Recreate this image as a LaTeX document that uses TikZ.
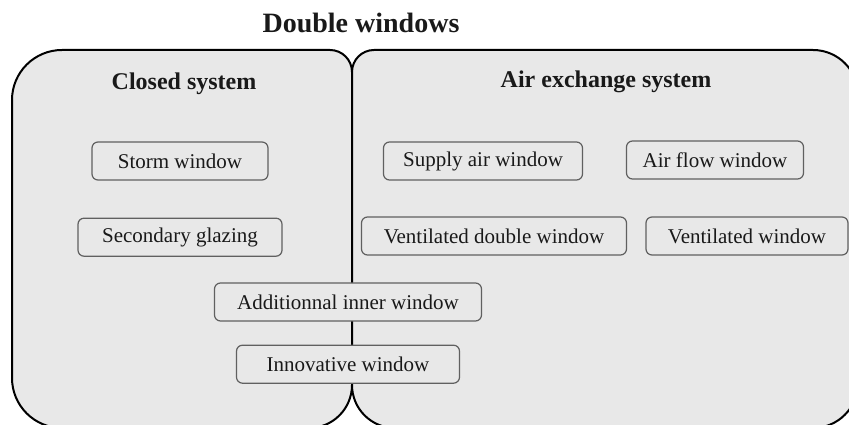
\documentclass[tikz,border=0pt]{standalone}
\usepackage{fontspec}
\setmainfont{Liberation Serif}
\usetikzlibrary{positioning}
\definecolor{panel}{RGB}{232,232,232}
\definecolor{rim}{RGB}{96,96,96}
\definecolor{ink}{RGB}{25,25,25}

\begin{document}
\begin{tikzpicture}[
  x=1pt, y=1pt,
  frame/.style={draw=black, line width=2pt, fill=panel},
  item/.style={draw=rim, line width=1.2pt, rounded corners=6pt, fill=panel, text=ink, minimum height=38pt, inner sep=0pt, font=\fontsize{21}{25}\selectfont},
  heading/.style={text=ink, font=\bfseries\fontsize{24}{28}\selectfont},
  maintitle/.style={text=ink, font=\bfseries\fontsize{28}{32}\selectfont}
]
  \useasboundingbox (0,0) rectangle (849,425);
  \clip (0,0) rectangle (849,425);
  % closed system panel
  \draw[frame] (12,47) -- (12,325) arc[start angle=180, end angle=90, radius=50]
    -- (330,375) arc[start angle=90, end angle=0, radius=22]
    -- (352,40) arc[start angle=0, end angle=-90, radius=43]
    -- (62,-3) arc[start angle=270, end angle=180, radius=50] -- cycle;
  % air exchange panel
  \draw[frame] (352,40) -- (352,353) arc[start angle=180, end angle=90, radius=22]
    -- (813,375) arc[start angle=90, end angle=0, radius=45]
    -- (858,42) arc[start angle=0, end angle=-90, radius=45]
    -- (395,-3) arc[start angle=270, end angle=180, radius=43] -- cycle;

  \node[maintitle] (title) at (361,402) {Double windows};
  \node[heading] (closed) at (184,341) {Closed system};
  \node[heading] (airex) at (606,343) {Air exchange system};

  \node[item, minimum width=176pt] (storm) at (180,264) {Storm window};
  \node[item, minimum width=204pt, below=37pt of storm] (secondary) {Secondary glazing};
  \node[item, minimum width=199pt] (supply) at (483,264) {Supply air window};
  \node[item, minimum width=177pt] (airflow) at (715,265) {Air flow window};
  \node[item, minimum width=265pt] (ventdouble) at (494,189) {Ventilated double window};
  \node[item, minimum width=202pt] (ventilated) at (747,189) {Ventilated window};
  \node[item, minimum width=267pt] (additional) at (348,123) {Additionnal inner window};
  \node[item, minimum width=223pt, below=23pt of additional] (innovative) {Innovative window};
\end{tikzpicture}
\end{document}
